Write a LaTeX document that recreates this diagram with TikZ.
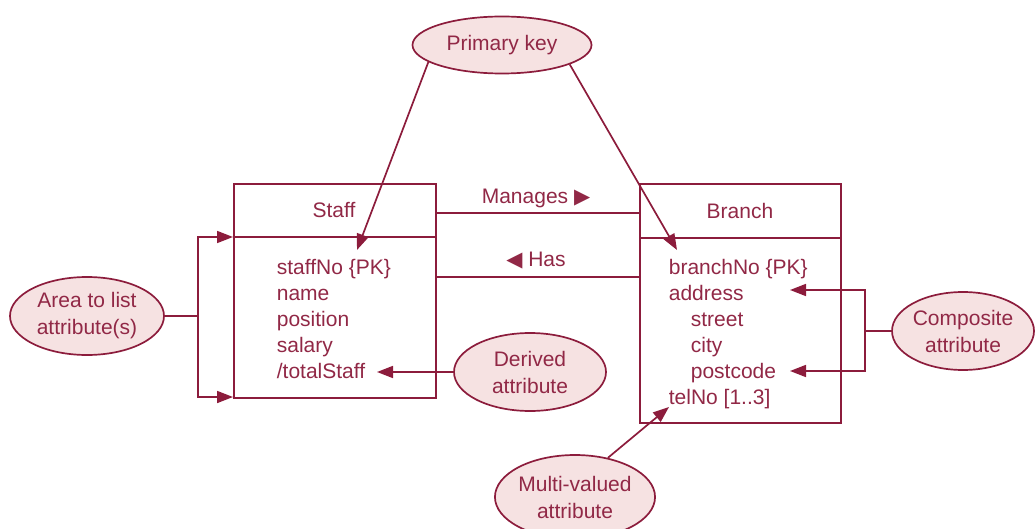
\documentclass[tikz,border=0pt]{standalone}
\usepackage{fontspec}
\setmainfont{Liberation Sans}
\newfontfamily\symfont{DejaVu Sans}
\newcommand\trifont{\symfont\fontsize{21}{21}\selectfont}
\usetikzlibrary{arrows.meta,shapes.geometric}
\definecolor{maroon}{RGB}{140,28,60}
\definecolor{txtred}{RGB}{145,40,70}
\definecolor{pinkfill}{RGB}{246,226,226}
\begin{document}
\begin{tikzpicture}[x=1pt,y=-1pt,line width=1.7pt,
  lbl/.style={text=txtred,font=\fontsize{21}{26}\selectfont,inner sep=0pt},
  attr/.style={lbl,anchor=base west},
  oval/.style={ellipse,draw=maroon,fill=pinkfill,line width=1.7pt,inner sep=0pt,
    text=txtred,align=center,font=\fontsize{21}{27}\selectfont},
  box/.style={draw=maroon,line width=1.7pt,inner sep=0pt,anchor=north west},
  conn/.style={draw=maroon,line width=1.7pt},
  arr/.style={conn,-{Triangle[length=16pt,width=12pt]}}]
\useasboundingbox (0,0) rectangle (1035,529);

% entity boxes
\node[box,minimum width=202pt,minimum height=214pt] (staff) at (233,183) {};
\node[box,minimum width=201pt,minimum height=239pt] (branch) at (639,183) {};
\draw[conn] (233,237) -- (435,237);
\draw[conn] (639,238) -- (840,238);
\node[lbl] (staffT) at (334,210) {Staff};
\node[lbl] (branchT) at (740,211) {Branch};

% staff attributes
\node[attr] (sNo) at (276,274) {staffNo \{PK\}};
\node[attr] (sName) at (276,300) {name};
\node[attr] (sPos) at (276,326) {position};
\node[attr] (sSal) at (276,352) {salary};
\node[attr] (sTot) at (276,378) {/totalStaff};

% branch attributes
\node[attr] (bNo) at (668,274) {branchNo \{PK\}};
\node[attr] (bAddr) at (668,300) {address};
\node[attr] (bStr) at (690,326) {street};
\node[attr] (bCity) at (690,352) {city};
\node[attr] (bPost) at (690,378) {postcode};
\node[attr] (bTel) at (668,404) {telNo [1..3]};

% relationships
\draw[conn] (staff.east |- 0,213) -- (branch.west |- 0,213);
\draw[conn] (staff.east |- 0,277) -- (branch.west |- 0,277);
\node[lbl,anchor=base] (manL) at (536,204) {Manages {\trifont ▶}};
\node[lbl,anchor=base] (hasL) at (536,266) {{\trifont ◀} Has};

% annotation ellipses
\node[oval,minimum width=179pt,minimum height=57pt] (pk) at (502,45) {Primary key};
\node[oval,minimum width=154pt,minimum height=78pt] (area) at (87,316) {Area to list\\attribute(s)};
\node[oval,minimum width=152pt,minimum height=78pt] (derived) at (530,372) {Derived\\attribute};
\node[oval,minimum width=142pt,minimum height=78pt] (comp) at (963,331) {Composite\\attribute};
\node[oval,minimum width=160pt,minimum height=84pt] (multi) at (575,497) {Multi-valued\\attribute};

% arrow targets
\coordinate (tSNo) at (357,250);
\coordinate (tBNo) at (677,250);
\coordinate (tTot) at (377,372);
\coordinate (tAddr) at (790,290);
\coordinate (tPost) at (790,371);
\coordinate (tTel) at (669,407);
\coordinate (aSplit) at (198,316);
\coordinate (aTop) at (233,237);
\coordinate (aBot) at (233,397);
\coordinate (cSplit) at (865,331);

% annotation connectors
\draw[arr] (pk.193) -- (tSNo);
\draw[arr] (pk.344) -- (tBNo);
\draw[conn] (area.east) -- (aSplit);
\draw[arr] (aSplit) |- (aTop);
\draw[arr] (aSplit) |- (aBot);
\draw[arr] (derived.west) -- (tTot);
\draw[conn] (comp.west) -- (cSplit);
\draw[arr] (cSplit) |- (tAddr);
\draw[arr] (cSplit) |- (tPost);
\draw[arr] (multi.50) -- (tTel);
\end{tikzpicture}
\end{document}
